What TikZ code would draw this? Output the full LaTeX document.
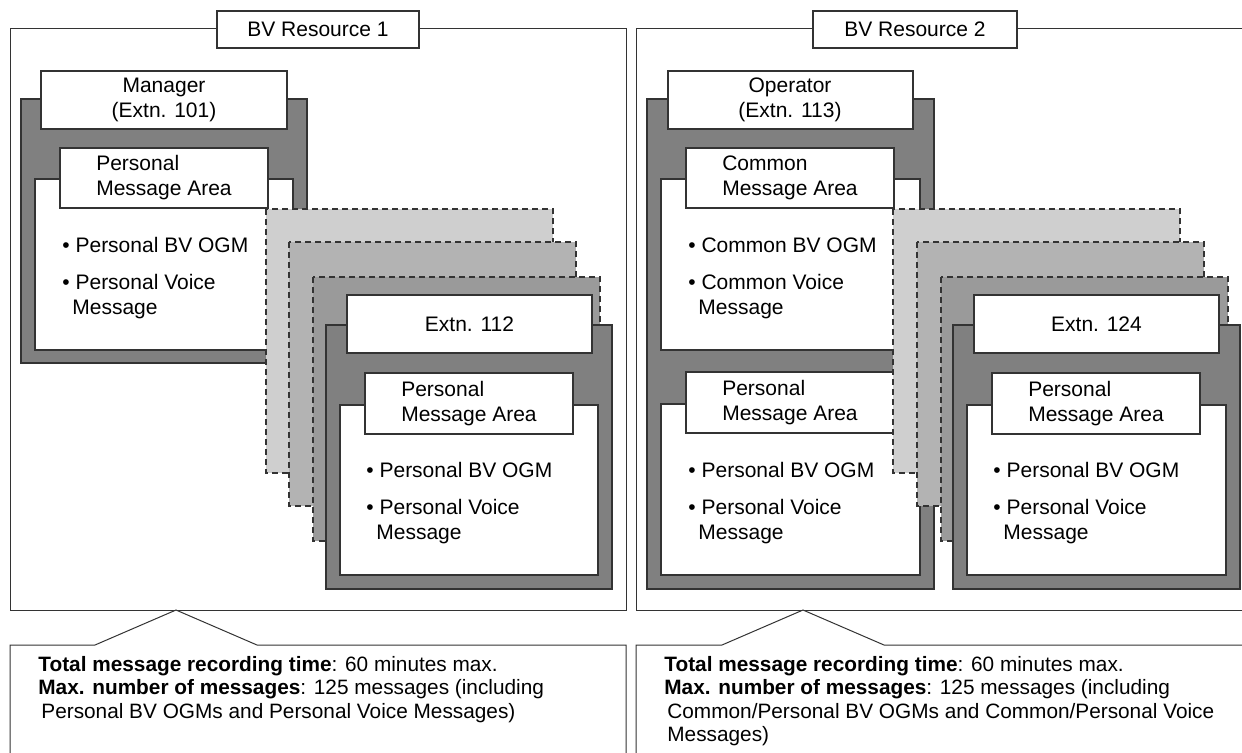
\documentclass[tikz,border=0pt]{standalone}
\usepackage{fontspec}
\setmainfont{Liberation Sans}
\definecolor{darkfill}{HTML}{808080}
\definecolor{stackA}{HTML}{CFCFCF}
\definecolor{stackB}{HTML}{B3B3B3}
\definecolor{stackC}{HTML}{9A9A9A}
\definecolor{edge}{HTML}{333333}
\tikzset{
	frame/.style={draw=edge, line width=0.5pt},
	labelbox/.style={draw=edge, fill=white, line width=0.7pt},
	darkbox/.style={draw=edge, fill=darkfill, line width=0.7pt},
	whitebox/.style={draw=edge, fill=white, line width=0.7pt},
	ghost/.style={draw=edge, dash pattern=on 3pt off 2pt, line width=0.6pt},
	txt/.style={inner sep=0pt, font=\fontsize{10.5}{12.5}\selectfont},
	items/.style={txt, align=left, anchor=north west},
	note/.style={inner sep=0pt, align=left, anchor=north west,
		font=\fontsize{10.4}{11.75}\selectfont}
}
\begin{document}
\begin{tikzpicture}[x=0.5pt, y=-0.5pt]
	\useasboundingbox (0,0) rectangle (1242,752);
	\clip (0,0) rectangle (1242,752);
	
	% BV Resource 1
	\draw[frame] (10,28) rectangle (626,610);
	\draw[labelbox] (217,11) rectangle (419,48);
	\node[txt] (res1) at (318,29.5) {BV Resource 1};
	
	\draw[darkbox] (21,99) rectangle (307,363);
	\draw[labelbox] (41,71) rectangle (287,129);
	\node[txt, align=center] (mgr) at (164,100) {Manager\\(Extn. 101)};
	\draw[whitebox] (35,179) rectangle (293,350);
	\draw[labelbox] (60,148) rectangle (268,208);
	\node[txt, align=left] (mgrarea) at (164,178) {Personal\\Message Area};
	\node[items] (mgritems) at (62,237)
		{• Personal BV OGM\\[6pt]• Personal Voice\\\hspace*{5pt}Message};
	
	\draw[ghost, fill=stackA] (266,209) rectangle (553,473);
	\draw[ghost, fill=stackB] (289,242) rectangle (576,506);
	\draw[ghost, fill=stackC] (313,277) rectangle (600,541);
	
	\draw[darkbox] (326,325) rectangle (612,589);
	\draw[labelbox] (347,295) rectangle (592,353);
	\node[txt] (ext112) at (469.5,324) {Extn. 112};
	\draw[whitebox] (340,405) rectangle (598,575);
	\draw[labelbox] (365,373) rectangle (573,434);
	\node[txt, align=left] (ext112area) at (469,403.5) {Personal\\Message Area};
	\node[items] (ext112items) at (366,462)
		{• Personal BV OGM\\[6pt]• Personal Voice\\\hspace*{5pt}Message};
	
	% BV Resource 2
	\draw[frame] (636,28) rectangle (1250,610);
	\draw[labelbox] (813,11) rectangle (1017,48);
	\node[txt] (res2) at (915,29.5) {BV Resource 2};
	
	\draw[darkbox] (647,99) rectangle (934,589);
	\draw[labelbox] (668,71) rectangle (913,129);
	\node[txt, align=center] (opr) at (790,100) {Operator\\(Extn. 113)};
	\draw[whitebox] (661,179) rectangle (920,350);
	\draw[labelbox] (686,148) rectangle (894,208);
	\node[txt, align=left] (oprcommon) at (790,178) {Common\\Message Area};
	\node[items] (oprcommonitems) at (688,237)
		{• Common BV OGM\\[6pt]• Common Voice\\\hspace*{5pt}Message};
	\draw[whitebox] (661,404) rectangle (920,575);
	\draw[labelbox] (686,372) rectangle (894,433);
	\node[txt, align=left] (oprarea) at (790,402.5) {Personal\\Message Area};
	\node[items] (opritems) at (688,462)
		{• Personal BV OGM\\[6pt]• Personal Voice\\\hspace*{5pt}Message};
	
	\draw[ghost, fill=stackA] (893,209) rectangle (1180,473);
	\draw[ghost, fill=stackB] (917,242) rectangle (1204,506);
	\draw[ghost, fill=stackC] (941,277) rectangle (1228,541);
	
	\draw[darkbox] (953,325) rectangle (1240,589);
	\draw[labelbox] (974,295) rectangle (1219,353);
	\node[txt] (ext124) at (1096.5,324) {Extn. 124};
	\draw[whitebox] (967,405) rectangle (1226,575);
	\draw[labelbox] (992,373) rectangle (1200,434);
	\node[txt, align=left] (ext124area) at (1096,403.5) {Personal\\Message Area};
	\node[items] (ext124items) at (993,462)
		{• Personal BV OGM\\[6pt]• Personal Voice\\\hspace*{5pt}Message};
	
	% notes
	\draw[frame, fill=white] (10,760) -- (10,645) -- (95,645) -- (176,610)
		-- (257,645) -- (626,645) -- (626,760);
	\node[note] (note1) at (38,656)
		{\textbf{Total message recording time}: 60 minutes max.\\
		\textbf{Max. number of messages}: 125 messages (including\\
		\hspace*{1.5pt}Personal BV OGMs and Personal Voice Messages)};
	\draw[frame, fill=white] (636,760) -- (636,645) -- (722,645) -- (803,610)
		-- (884,645) -- (1250,645);
	\node[note] (note2) at (664,656)
		{\textbf{Total message recording time}: 60 minutes max.\\
		\textbf{Max. number of messages}: 125 messages (including\\
		\hspace*{1.5pt}Common/Personal BV OGMs and Common/Personal Voice\\
		\hspace*{1.5pt}Messages)};
\end{tikzpicture}
\end{document}
